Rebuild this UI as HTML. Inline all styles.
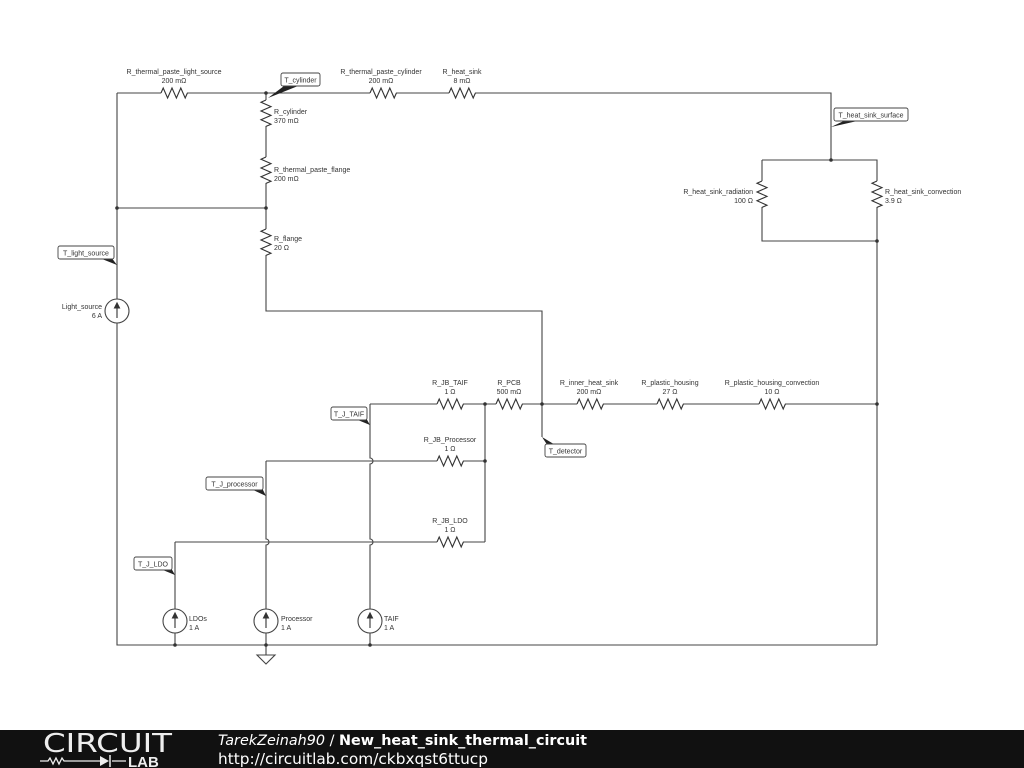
<!DOCTYPE html>
<html><head><meta charset="utf-8"><style>
html,body{margin:0;padding:0;background:#fff;width:1024px;height:768px;overflow:hidden}
svg text{font-family:"Liberation Sans",sans-serif;font-size:7px;fill:#333}
</style></head><body>
<svg width="1024" height="768" viewBox="0 0 1024 768" xmlns="http://www.w3.org/2000/svg">
<defs>
<path id="rh" d="M0,0 l2.2,-5 l4.4,10 l4.4,-10 l4.4,10 l4.4,-10 l4.4,10 l2.2,-5" fill="none" stroke="#333" stroke-width="1.1"/>
<path id="rv" d="M0,0 l-5,2.2 l10,4.4 l-10,4.4 l10,4.4 l-10,4.4 l10,4.4 l-5,2.2" fill="none" stroke="#333" stroke-width="1.1"/>
</defs>
<g stroke="#444" stroke-width="1.1" fill="none">
<path d="M117,93 H161 M187,93 H370 M396,93 H449 M475,93 H831 V160"/>
<path d="M762,160 H877 V181 M877,207 V404 M762,160 V181 M762,207 V241 H877 M877,404 V645"/>
<path d="M117,93 V299 M117,323 V645 H877"/>
<path d="M117,208 H266"/>
<path d="M266,93 V100 M266,126 V157 M266,183 V229 M266,255 V311 H542 V404"/>
<path d="M370,404 H437 M463,404 H496 M522,404 H577 M603,404 H657 M683,404 H759 M785,404 H877"/>
<path d="M485,404 V542 M463,461 H485 M463,542 H485"/>
<path d="M266,461 H437 M175,542 H437"/>
<path d="M370,404 V458 A3,3 0 0 1 370,464 V539 A3,3 0 0 1 370,545 V609 M370,633 V645"/>
<path d="M266,461 V539 A3,3 0 0 1 266,545 V609 M266,633 V655"/>
<path d="M175,542 V609 M175,633 V645"/>
<path d="M257,655 H275 L266,664 Z"/>
<path d="M542,404 V437"/>
</g>
<use href="#rh" x="161" y="93"/><use href="#rh" x="370" y="93"/><use href="#rh" x="449" y="93"/>
<use href="#rv" x="266" y="100"/><use href="#rv" x="266" y="157"/><use href="#rv" x="266" y="229"/>
<use href="#rv" x="762" y="181"/><use href="#rv" x="877" y="181"/>
<use href="#rh" x="437" y="404"/><use href="#rh" x="496" y="404"/><use href="#rh" x="577" y="404"/>
<use href="#rh" x="657" y="404"/><use href="#rh" x="759" y="404"/>
<use href="#rh" x="437" y="461"/><use href="#rh" x="437" y="542"/>
<g stroke="#444" stroke-width="1.1" fill="#fff">
<circle cx="117" cy="311" r="12"/><circle cx="175" cy="621" r="12"/><circle cx="266" cy="621" r="12"/><circle cx="370" cy="621" r="12"/>
</g>
<g stroke="#333" stroke-width="1.1" fill="#333">
<path d="M117,318 V306 M175,628 V616 M266,628 V616 M370,628 V616"/>
<path d="M117,303 l-2.5,5 h5z M175,613 l-2.5,5 h5z M266,613 l-2.5,5 h5z M370,613 l-2.5,5 h5z"/>
</g>
<g fill="#333">
<circle cx="266" cy="93" r="1.8"/><circle cx="117" cy="208" r="1.8"/><circle cx="266" cy="208" r="1.8"/>
<circle cx="831" cy="160" r="1.8"/><circle cx="877" cy="241" r="1.8"/><circle cx="877" cy="404" r="1.8"/>
<circle cx="485" cy="404" r="1.8"/><circle cx="542" cy="404" r="1.8"/><circle cx="485" cy="461" r="1.8"/>
<circle cx="175" cy="645" r="1.8"/><circle cx="266" cy="645" r="1.8"/><circle cx="370" cy="645" r="1.8"/>
</g>
<g fill="#222">
<path d="M268,98 L284,86 L298,86 Z"/>
<path d="M117,265 L97,257 L111,257 Z"/>
<path d="M831,127 L848,119 L866,119 Z"/>
<path d="M370,425 L353,418 L366,418 Z"/>
<path d="M266,496 L249,488 L262,488 Z"/>
<path d="M175,575 L158,568 L171,568 Z"/>
<path d="M542,437 L548,446 L557,446 Z"/>
</g>
<g fill="#fff" stroke="#444" stroke-width="0.9">
<rect x="281" y="73" width="39" height="13" rx="2"/>
<rect x="58" y="246" width="56" height="13" rx="2"/>
<rect x="834" y="108" width="74" height="13" rx="2"/>
<rect x="331" y="407" width="36" height="13" rx="2"/>
<rect x="206" y="477" width="57" height="13" rx="2"/>
<rect x="134" y="557" width="38" height="13" rx="2"/>
<rect x="545" y="444" width="41" height="13" rx="2"/>
</g>
<text x="300.5" y="82.5" text-anchor="middle">T_cylinder</text>
<text x="86" y="255.5" text-anchor="middle">T_light_source</text>
<text x="871" y="117.5" text-anchor="middle">T_heat_sink_surface</text>
<text x="349" y="416.5" text-anchor="middle">T_J_TAIF</text>
<text x="234.5" y="486.5" text-anchor="middle">T_J_processor</text>
<text x="153" y="566.5" text-anchor="middle">T_J_LDO</text>
<text x="565.5" y="453.5" text-anchor="middle">T_detector</text>
<g text-anchor="middle">
<text x="174" y="74">R_thermal_paste_light_source</text><text x="174" y="83">200 mΩ</text>
<text x="381" y="74">R_thermal_paste_cylinder</text><text x="381" y="83">200 mΩ</text>
<text x="462" y="74">R_heat_sink</text><text x="462" y="83">8 mΩ</text>
<text x="450" y="385">R_JB_TAIF</text><text x="450" y="394">1 Ω</text>
<text x="509" y="385">R_PCB</text><text x="509" y="394">500 mΩ</text>
<text x="589" y="385">R_inner_heat_sink</text><text x="589" y="394">200 mΩ</text>
<text x="670" y="385">R_plastic_housing</text><text x="670" y="394">27 Ω</text>
<text x="772" y="385">R_plastic_housing_convection</text><text x="772" y="394">10 Ω</text>
<text x="450" y="442">R_JB_Processor</text><text x="450" y="451">1 Ω</text>
<text x="450" y="523">R_JB_LDO</text><text x="450" y="532">1 Ω</text>
</g>
<text x="274" y="114">R_cylinder</text><text x="274" y="123">370 mΩ</text>
<text x="274" y="172">R_thermal_paste_flange</text><text x="274" y="181">200 mΩ</text>
<text x="274" y="241">R_flange</text><text x="274" y="250">20 Ω</text>
<text x="885" y="194">R_heat_sink_convection</text><text x="885" y="203">3.9 Ω</text>
<g text-anchor="end">
<text x="753" y="194">R_heat_sink_radiation</text><text x="753" y="203">100 Ω</text>
<text x="102" y="309">Light_source</text><text x="102" y="318">6 A</text>
</g>
<text x="189" y="621">LDOs</text><text x="189" y="630">1 A</text>
<text x="281" y="621">Processor</text><text x="281" y="630">1 A</text>
<text x="384" y="621">TAIF</text><text x="384" y="630">1 A</text>
<rect x="0" y="730" width="1024" height="38" fill="#111"/>
<text x="43" y="752" textLength="129" lengthAdjust="spacingAndGlyphs" style="font-size:26px;fill:#eee;font-family:'DejaVu Sans',sans-serif">CIRCUIT</text>
<path d="M40,761 H48 l2,-3 l3,6 l3,-6 l3,6 l3,-6 l2,3 H100 M112,761 H126" stroke="#eee" stroke-width="1.3" fill="none"/>
<path d="M100,756 L109,761 L100,766 Z" fill="#eee"/><path d="M110,755 V767" stroke="#eee" stroke-width="1.5"/>
<text x="128" y="767" style="font-size:15px;fill:#eee;font-weight:bold">LAB</text>
<text x="218" y="745" textLength="369" lengthAdjust="spacingAndGlyphs" style="font-size:14.5px;fill:#fff;font-family:'DejaVu Sans',sans-serif"><tspan font-style="italic">TarekZeinah90</tspan> / <tspan font-weight="bold">New_heat_sink_thermal_circuit</tspan></text>
<text x="218" y="764" textLength="270" lengthAdjust="spacingAndGlyphs" style="font-size:15px;fill:#fff;font-family:'DejaVu Sans',sans-serif">http://circuitlab.com/ckbxqst6ttucp</text>
</svg>
</body></html>
